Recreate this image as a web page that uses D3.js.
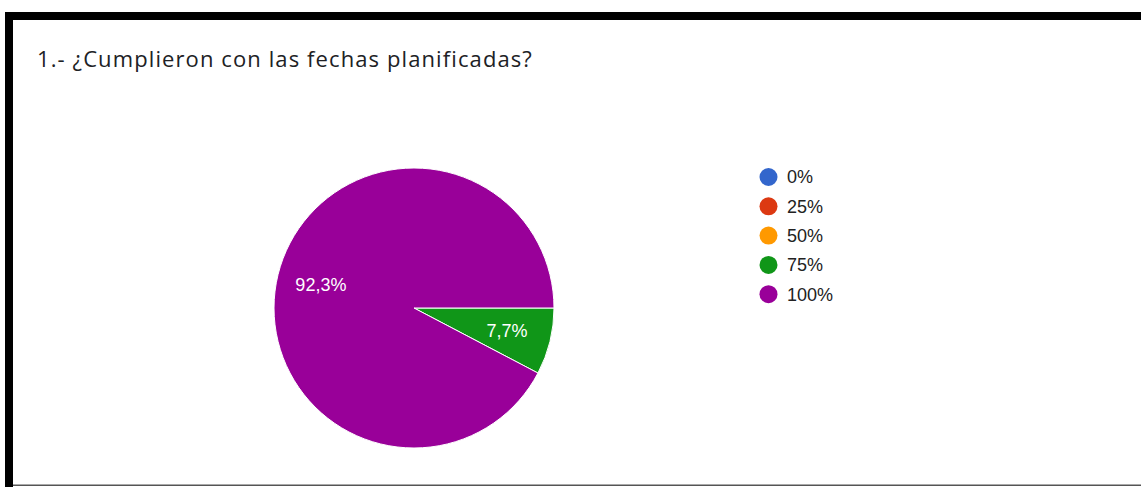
<!DOCTYPE html>
<html>
<head>
<meta charset="utf-8">
<script src="https://cdn.jsdelivr.net/npm/d3@7"></script>
<style>
  html, body { margin: 0; padding: 0; background: #fff; }
  svg { display: block; }
</style>
</head>
<body>
<svg id="chart" width="1141" height="487"></svg>
<script>
const title = "1.- ¿Cumplieron con las fechas planificadas?";
const categories = ["0%", "25%", "50%", "75%", "100%"];
const values = [0, 0, 0, 1, 12];
const sliceLabels = ["", "", "", "7,7%", "92,3%"];
const colors = ["#3366cc", "#dc3912", "#ff9900", "#109618", "#990099"];

const svg = d3.select("#chart");
const W = 1141, H = 487;

// frame
svg.append("rect").attr("x", 5).attr("y", 12).attr("width", W - 5).attr("height", 8).attr("fill", "#000");
svg.append("rect").attr("x", 5).attr("y", 12).attr("width", 8).attr("height", H - 12).attr("fill", "#000");
svg.append("rect").attr("x", 13).attr("y", 484.5).attr("width", W - 13).attr("height", 1.5).attr("fill", "#555");

// title
svg.append("text")
  .attr("x", 37).attr("y", 67)
  .attr("font-family", "'Open Sans', Roboto, Arial, sans-serif")
  .attr("font-size", 22)
  .attr("letter-spacing", 1.1)
  .attr("fill", "#202124")
  .text(title);

// pie
const cx = 414, cy = 308, r = 140;
const data = categories.map((c, i) => ({ cat: c, value: values[i], label: sliceLabels[i], color: colors[i] }));
const pie = d3.pie().value(d => d.value).sort(null)
  .startAngle(Math.PI / 2).endAngle(Math.PI / 2 + 2 * Math.PI);
const arcs = pie(data);
const arc = d3.arc().innerRadius(0).outerRadius(r);
const g = svg.append("g").attr("transform", `translate(${cx},${cy})`);
g.selectAll("path").data(arcs.filter(a => a.data.value > 0)).join("path")
  .attr("d", arc)
  .attr("fill", d => d.data.color)
  .attr("stroke", "#fff")
  .attr("stroke-width", 1);

// slice labels
const labelArc = d3.arc().innerRadius(r * 0.685).outerRadius(r * 0.685);
g.selectAll("text.lbl").data(arcs.filter(a => a.data.value > 0)).join("text")
  .attr("class", "lbl")
  .attr("transform", d => {
    const [x, y] = labelArc.centroid(d);
    return `translate(${x},${y})`;
  })
  .attr("text-anchor", "middle")
  .attr("dy", "0.35em")
  .attr("font-family", "Arial, 'Liberation Sans', sans-serif")
  .attr("font-size", 18)
  .attr("fill", "#fff")
  .text(d => d.data.label);

// legend
const lg = svg.append("g").attr("transform", "translate(768.5,177)");
const item = lg.selectAll("g").data(data).join("g")
  .attr("transform", (d, i) => `translate(0,${i * 29.3})`);
item.append("circle").attr("r", 9).attr("fill", d => d.color);
item.append("text")
  .attr("x", 18.5).attr("dy", "0.36em")
  .attr("font-family", "Arial, 'Liberation Sans', sans-serif")
  .attr("font-size", 18)
  .attr("fill", "#222")
  .text(d => d.cat);
</script>
</body>
</html>
